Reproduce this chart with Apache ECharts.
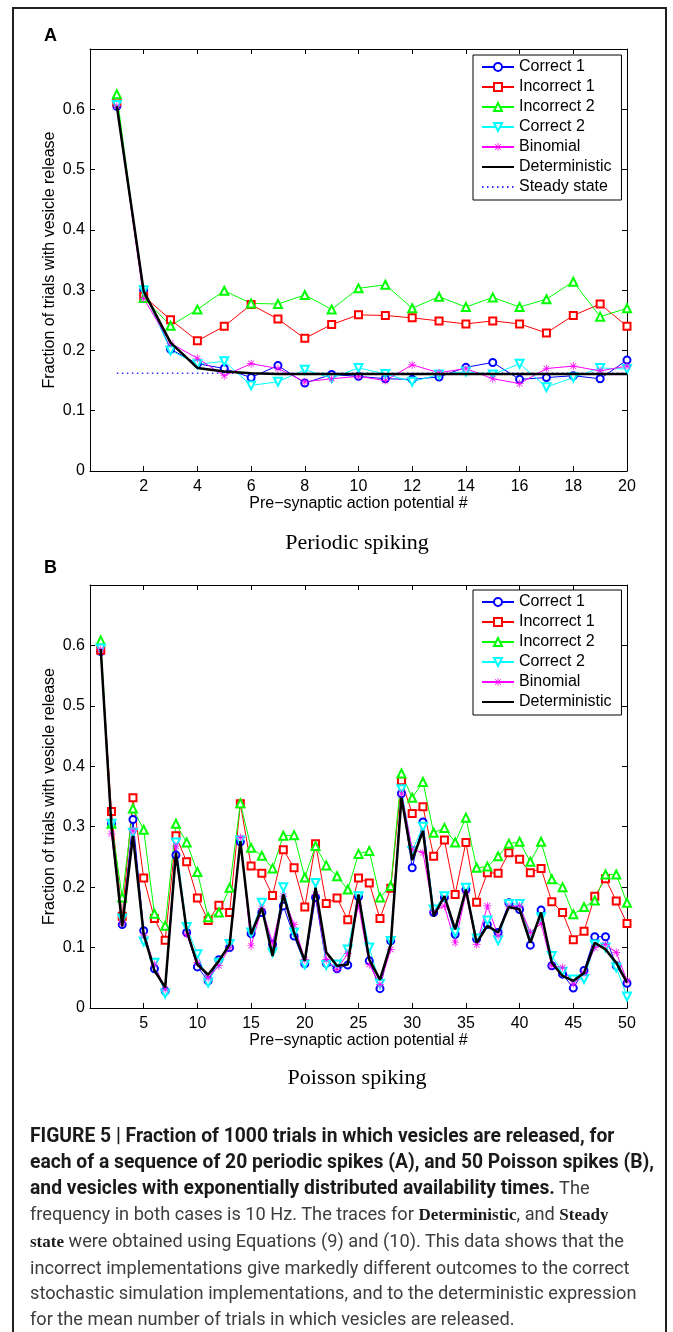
<!DOCTYPE html>
<html>
<head>
<meta charset="utf-8">
<script src="https://cdn.jsdelivr.net/npm/echarts@6/dist/echarts.min.js"></script>
<style>
  body { margin: 0; background: #fff; }
  #frame { position: absolute; left: 12px; top: 7px; width: 651px; height: 1340px; border: 2.5px solid #231f20; border-bottom: none; }
  #chart { position: absolute; left: 0; top: 0; width: 673px; height: 1332px; }
  #caption { position: absolute; left: 30px; top: 1123px; font-family: Roboto, sans-serif; font-size: 18.2px; line-height: 25.9px; color: #3d3d3d; white-space: nowrap; }
  #caption b { color: #1a1a1a; font-weight: bold; font-size: 19.3px; }
  #caption .sb { font-family: "Liberation Serif", serif; font-weight: bold; color: #1a1a1a; font-size: 17px; }
</style>
</head>
<body>
<div id="frame"></div>
<div id="chart"></div>
<div id="caption">
  <b>FIGURE 5 | Fraction of 1000 trials in which vesicles are released, for</b><br>
  <b>each of a sequence of 20 periodic spikes (A), and 50 Poisson spikes (B),</b><br>
  <b>and vesicles with exponentially distributed availability times.</b> The<br>
  frequency in both cases is 10 Hz. The traces for <span class="sb">Deterministic</span>, and <span class="sb">Steady</span><br>
  <span class="sb">state</span> were obtained using Equations (9) and (10). This data shows that the<br>
  incorrect implementations give markedly different outcomes to the correct<br>
  stochastic simulation implementations, and to the deterministic expression<br>
  for the mean number of trials in which vesicles are released.
</div>
<script>
// spike numbers
const periodicSpikes = [1, 2, 3, 4, 5, 6, 7, 8, 9, 10, 11, 12, 13, 14, 15, 16, 17, 18, 19, 20];
const poissonSpikes = [1, 2, 3, 4, 5, 6, 7, 8, 9, 10, 11, 12, 13, 14, 15, 16, 17, 18, 19, 20,
  21, 22, 23, 24, 25, 26, 27, 28, 29, 30, 31, 32, 33, 34, 35, 36, 37, 38, 39, 40,
  41, 42, 43, 44, 45, 46, 47, 48, 49, 50];

// A: periodic spiking
const correct1A = [0.605, 0.300, 0.202, 0.178, 0.170, 0.155, 0.175, 0.146, 0.160, 0.157, 0.153, 0.152, 0.156, 0.172, 0.180, 0.152, 0.155, 0.158, 0.153, 0.184];
const incorrect1A = [0.612, 0.290, 0.251, 0.216, 0.240, 0.276, 0.252, 0.220, 0.243, 0.259, 0.258, 0.254, 0.249, 0.244, 0.249, 0.244, 0.229, 0.258, 0.277, 0.240];
const incorrect2A = [0.625, 0.287, 0.241, 0.268, 0.299, 0.278, 0.277, 0.292, 0.268, 0.303, 0.309, 0.270, 0.289, 0.272, 0.288, 0.272, 0.285, 0.314, 0.256, 0.270];
const correct2A = [0.607, 0.300, 0.200, 0.177, 0.182, 0.142, 0.148, 0.168, 0.154, 0.171, 0.161, 0.148, 0.160, 0.165, 0.160, 0.178, 0.139, 0.155, 0.171, 0.169];
const binomialA = [0.605, 0.286, 0.212, 0.187, 0.158, 0.178, 0.170, 0.148, 0.153, 0.157, 0.150, 0.176, 0.163, 0.170, 0.153, 0.145, 0.170, 0.174, 0.166, 0.174];
const deterministicA = [0.605, 0.298, 0.213, 0.171, 0.165, 0.162, 0.161, 0.161, 0.161, 0.161, 0.161, 0.161, 0.161, 0.161, 0.161, 0.161, 0.161, 0.161, 0.161, 0.161];
const steadyX = [1, 20];
const steadyA = [0.162, 0.162];

// B: Poisson spiking
const correct1B = [0.590, 0.305, 0.138, 0.312, 0.128, 0.065, 0.028, 0.253, 0.125, 0.068,
  0.045, 0.080, 0.100, 0.275, 0.123, 0.158, 0.105, 0.169, 0.119, 0.073,
  0.183, 0.074, 0.065, 0.071, 0.184, 0.078, 0.032, 0.111, 0.355, 0.232,
  0.308, 0.158, 0.183, 0.122, 0.196, 0.114, 0.138, 0.125, 0.174, 0.163,
  0.104, 0.162, 0.070, 0.056, 0.033, 0.062, 0.118, 0.118, 0.070, 0.041];
const incorrect1B = [0.592, 0.325, 0.152, 0.348, 0.215, 0.148, 0.112, 0.285, 0.242, 0.182,
  0.145, 0.170, 0.158, 0.338, 0.235, 0.223, 0.186, 0.262, 0.232, 0.167,
  0.272, 0.173, 0.182, 0.146, 0.215, 0.207, 0.148, 0.198, 0.376, 0.322,
  0.333, 0.251, 0.278, 0.188, 0.274, 0.175, 0.224, 0.223, 0.257, 0.246,
  0.224, 0.231, 0.176, 0.158, 0.113, 0.127, 0.185, 0.214, 0.177, 0.140];
const incorrect2B = [0.608, 0.305, 0.183, 0.330, 0.295, 0.156, 0.136, 0.305, 0.274, 0.225,
  0.150, 0.158, 0.199, 0.339, 0.265, 0.252, 0.231, 0.285, 0.286, 0.216,
  0.268, 0.236, 0.218, 0.196, 0.255, 0.260, 0.183, 0.202, 0.388, 0.348,
  0.374, 0.290, 0.298, 0.274, 0.315, 0.232, 0.234, 0.251, 0.272, 0.275,
  0.242, 0.275, 0.213, 0.200, 0.155, 0.167, 0.178, 0.221, 0.221, 0.174];
const correct2B = [0.595, 0.305, 0.148, 0.290, 0.110, 0.075, 0.024, 0.274, 0.134, 0.089,
  0.042, 0.075, 0.106, 0.277, 0.125, 0.174, 0.092, 0.200, 0.125, 0.072,
  0.207, 0.071, 0.072, 0.097, 0.185, 0.100, 0.040, 0.111, 0.362, 0.260,
  0.300, 0.163, 0.185, 0.125, 0.199, 0.115, 0.145, 0.112, 0.172, 0.172,
  0.120, 0.150, 0.086, 0.060, 0.047, 0.048, 0.105, 0.100, 0.067, 0.019];
const binomialB = [0.593, 0.288, 0.141, 0.293, 0.120, 0.072, 0.031, 0.268, 0.122, 0.075,
  0.050, 0.070, 0.100, 0.282, 0.103, 0.165, 0.108, 0.185, 0.138, 0.080,
  0.188, 0.080, 0.064, 0.090, 0.170, 0.072, 0.039, 0.097, 0.355, 0.263,
  0.257, 0.160, 0.169, 0.108, 0.190, 0.105, 0.169, 0.120, 0.168, 0.169,
  0.125, 0.140, 0.070, 0.067, 0.040, 0.058, 0.100, 0.105, 0.092, 0.045];
const deterministicB = [0.594, 0.300, 0.135, 0.285, 0.122, 0.062, 0.034, 0.257, 0.128, 0.072,
  0.055, 0.078, 0.105, 0.276, 0.122, 0.166, 0.086, 0.188, 0.125, 0.078,
  0.199, 0.092, 0.070, 0.072, 0.188, 0.080, 0.047, 0.105, 0.348, 0.245,
  0.293, 0.152, 0.185, 0.130, 0.196, 0.108, 0.136, 0.125, 0.167, 0.163,
  0.108, 0.158, 0.075, 0.053, 0.045, 0.058, 0.108, 0.097, 0.075, 0.042];

const FONT = '"Liberation Sans", Arial, sans-serif';
// MATLAB style asterisk marker
const ASTERISK = 'path://M-0.7,-8L0.7,-8L0.7,8L-0.7,8Z M-8,-0.7L8,-0.7L8,0.7L-8,0.7Z M-6.2,-5.2L-5.2,-6.2L6.2,5.2L5.2,6.2Z M5.2,-6.2L6.2,-5.2L-5.2,6.2L-6.2,5.2Z';

const styles = {
  'Correct 1': { color: '#0000ff', symbol: 'emptyCircle', size: 7 },
  'Incorrect 1': { color: '#ff0000', symbol: 'emptyRect', size: 7 },
  'Incorrect 2': { color: '#00ff00', symbol: 'emptyTriangle', size: 8 },
  'Correct 2': { color: '#00ffff', symbol: 'emptyTriangle', size: 8, rotate: 180 },
  'Binomial': { color: '#ff00ff', symbol: ASTERISK, size: 8 },
  'Deterministic': { color: '#000000', symbol: 'none', width: 2.5 },
  'Steady state': { color: '#3030ff', symbol: 'none', width: 1.5, type: [1.5, 3.5] }
};

function pairs(xs, ys) {
  return ys.map((v, i) => [xs[i], v]);
}

function makeSeries(name, xs, ys, axisIdx) {
  const s = styles[name];
  return {
    name: name,
    type: 'line',
    xAxisIndex: axisIdx,
    yAxisIndex: axisIdx,
    data: pairs(xs, ys),
    symbol: s.symbol,
    symbolSize: s.size || 0,
    symbolRotate: s.rotate || 0,
    showSymbol: s.symbol !== 'none',
    animation: false,
    z: name === 'Deterministic' ? 5 : 3,
    itemStyle: { color: s.color, borderWidth: 1 },
    lineStyle: { color: s.color, width: s.width || 1, type: s.type || 'solid' }
  };
}

function xAxes(gridIdx, max, interval) {
  const base = {
    type: 'value', gridIndex: gridIdx, min: 0, max: max, interval: interval,
    splitLine: { show: false },
    axisLine: { onZero: false, lineStyle: { color: '#000', width: 1 } },
    axisTick: { inside: true, length: 5, lineStyle: { color: '#000' } }
  };
  return [
    Object.assign({}, base, {
      position: 'bottom',
      name: 'Pre\u2212synaptic action potential #',
      nameLocation: 'middle', nameGap: 25,
      nameTextStyle: { fontFamily: FONT, fontSize: 16, color: '#000' },
      axisLabel: {
        fontFamily: FONT, fontSize: 16, color: '#000', margin: 8,
        formatter: v => (v === 0 ? '' : String(v))
      }
    }),
    Object.assign({}, base, { position: 'top', axisLabel: { show: false } })
  ];
}

function yAxes(gridIdx) {
  const base = {
    type: 'value', gridIndex: gridIdx, min: 0, max: 0.7, interval: 0.1,
    splitLine: { show: false },
    axisLine: { onZero: false, lineStyle: { color: '#000', width: 1 } },
    axisTick: { inside: true, length: 5, lineStyle: { color: '#000' } }
  };
  return [
    Object.assign({}, base, {
      position: 'left',
      name: 'Fraction of trials with vesicle release',
      nameLocation: 'middle', nameGap: 32, nameMoveOverlap: false,
      nameTextStyle: { fontFamily: FONT, fontSize: 16, color: '#000' },
      axisLabel: {
        fontFamily: FONT, fontSize: 16, color: '#000', margin: 5,
        formatter: v => (v > 0.65 ? '' : (v === 0 ? '0' : v.toFixed(1)))
      }
    }),
    Object.assign({}, base, { position: 'right', axisLabel: { show: false } })
  ];
}

function legend(top, names) {
  return {
    orient: 'vertical', left: 473, top: top,
    // plain lines (no marker) for the curves drawn without symbols
    data: names.map(n => (styles[n].symbol === 'none' ? { name: n, itemStyle: { opacity: 0 } } : n)),
    backgroundColor: '#fff', borderColor: '#000', borderWidth: 1,
    padding: [4, 10, 5, 8], itemGap: 4,
    itemWidth: 32, itemHeight: 10,
    selectedMode: false,
    textStyle: { fontFamily: FONT, fontSize: 16, color: '#000' }
  };
}

const namesB = ['Correct 1', 'Incorrect 1', 'Incorrect 2', 'Correct 2', 'Binomial', 'Deterministic'];
const namesA = namesB.concat(['Steady state']);

const chart = echarts.init(document.getElementById('chart'), null, { renderer: 'canvas' });

chart.setOption({
  backgroundColor: 'transparent',
  animation: false,
  grid: [
    { left: 90, top: 49, width: 537, height: 422 },
    { left: 90, top: 585, width: 537, height: 423 }
  ],
  xAxis: xAxes(0, 20, 2).concat(xAxes(1, 50, 5)),
  yAxis: yAxes(0).concat(yAxes(1)),
  legend: [legend(55, namesA), legend(590, namesB)],
  series: [
    makeSeries('Steady state', steadyX, steadyA, 0),
    makeSeries('Correct 1', periodicSpikes, correct1A, 0),
    makeSeries('Incorrect 1', periodicSpikes, incorrect1A, 0),
    makeSeries('Incorrect 2', periodicSpikes, incorrect2A, 0),
    makeSeries('Correct 2', periodicSpikes, correct2A, 0),
    makeSeries('Binomial', periodicSpikes, binomialA, 0),
    makeSeries('Deterministic', periodicSpikes, deterministicA, 0),
    makeSeries('Correct 1', poissonSpikes, correct1B, 2),
    makeSeries('Incorrect 1', poissonSpikes, incorrect1B, 2),
    makeSeries('Incorrect 2', poissonSpikes, incorrect2B, 2),
    makeSeries('Correct 2', poissonSpikes, correct2B, 2),
    makeSeries('Binomial', poissonSpikes, binomialB, 2),
    makeSeries('Deterministic', poissonSpikes, deterministicB, 2)
  ],
  graphic: [
    { type: 'text', left: 44, top: 27, style: { text: 'A', font: 'bold 18px ' + FONT, fill: '#000' } },
    { type: 'text', left: 44, top: 559, style: { text: 'B', font: 'bold 18px ' + FONT, fill: '#000' } },
    { type: 'text', x: 357, y: 543, style: { text: 'Periodic spiking', font: '22px "Liberation Serif", serif', fill: '#000', align: 'center', verticalAlign: 'middle' } },
    { type: 'text', x: 357, y: 1078, style: { text: 'Poisson spiking', font: '22px "Liberation Serif", serif', fill: '#000', align: 'center', verticalAlign: 'middle' } }
  ]
});
</script>
</body>
</html>
